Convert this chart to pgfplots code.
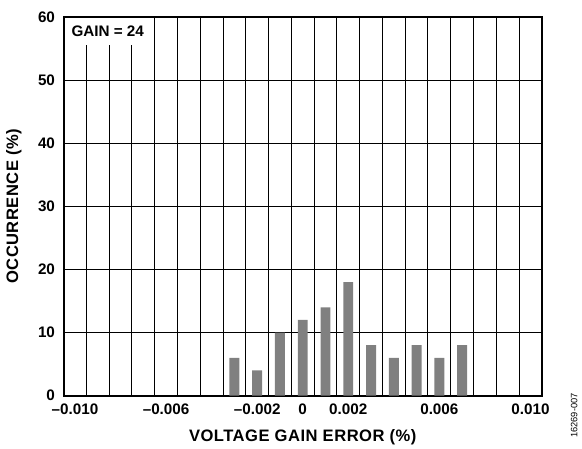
\documentclass[border=0pt]{standalone}
\usepackage{pgfplots}
\pgfplotsset{compat=1.18}
\usepackage{fontspec}
\setmainfont{Liberation Sans}
\newfontfamily\labelfont[LetterSpace=3]{Liberation Sans}
\begin{document}
\begin{tikzpicture}
\begin{axis}[
    scale only axis,
    width=360.75pt, height=285.75pt,
    xmin=-0.0105, xmax=0.0105,
    ymin=0, ymax=60,
    scaled x ticks=false,
    xtick={-0.010,-0.006,-0.002,0,0.002,0.006,0.010},
    xticklabels={--0.010,--0.006,--0.002,0,0.002,0.006,0.010},
    minor xtick={-0.0095,-0.0085,-0.0075,-0.0065,-0.0055,-0.0045,-0.0035,-0.0025,-0.0015,-0.0005,
                 0.0005,0.0015,0.0025,0.0035,0.0045,0.0055,0.0065,0.0075,0.0085,0.0095},
    ytick={0,10,...,60},
    xminorgrids=true, xmajorgrids=false, ymajorgrids=true,
    major grid style={black, line width=0.75pt},
    minor grid style={black, line width=0.75pt},
    major tick length=0pt, minor tick length=0pt,
    axis line style={black, line width=1.5pt},
    tick label style={font=\fontsize{11.5}{13}\selectfont\bfseries},
    /pgf/number format/assume math mode=true,
    xticklabel style={yshift=-3pt},
    yticklabel style={xshift=-3pt},
    xlabel={VOLTAGE GAIN ERROR (\%)},
    ylabel={OCCURRENCE (\%)},
    label style={font=\labelfont\fontsize{12.5}{14}\selectfont\bfseries},
    xlabel style={at={([yshift=-31pt]axis description cs:0.5,0)}, anchor=center},
    ylabel style={at={([xshift=-37.5pt]axis description cs:0,0.5)}, anchor=center},
    clip=false,
]
\addplot[ybar, bar width=7.5pt, fill=black!50, draw=none] coordinates {
    (-0.003,6) (-0.002,4) (-0.001,10) (0,12) (0.001,14) (0.002,18)
    (0.003,8) (0.004,6) (0.005,8) (0.006,6) (0.007,8)
};
\node[anchor=north west, fill=white, inner xsep=5pt, inner ysep=0pt,
      minimum height=20pt, font=\fontsize{11.5}{13}\selectfont\bfseries]
    at ([xshift=0.75pt,yshift=-0.75pt]rel axis cs:0,1) {GAIN = 24};
\node[rotate=90, font=\fontsize{7}{8}\selectfont]
    at ([xshift=24.5pt,yshift=-15pt]rel axis cs:1,0) {16269-007};
\end{axis}
\path ([shift={(-48pt,-38.25pt)}]current axis.south west)
      rectangle ([shift={(27.75pt,12.75pt)}]current axis.north east);
\end{tikzpicture}
\end{document}
